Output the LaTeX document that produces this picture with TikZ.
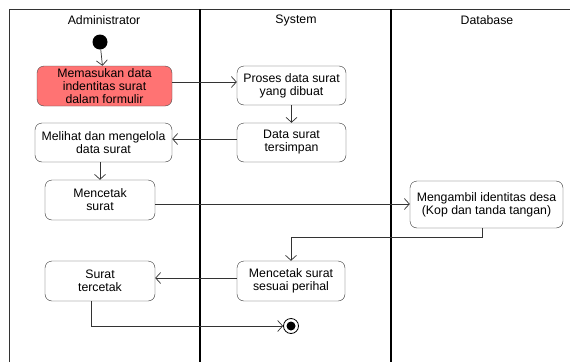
\documentclass[tikz,border=0pt]{standalone}
\usepackage{fontspec}
\setmainfont{Liberation Sans}
\usetikzlibrary{arrows.meta}
\tikzset{
  act/.style={draw=black!80, rounded corners=7pt, fill=white, align=center,
    inner sep=0pt, font=\fontsize{12.3}{13}\selectfont},
  hot/.style={act, fill=red!55!white, draw=black!70},
  flow/.style={draw=black!80, line width=0.7pt, -{Straight Barb[length=5pt,width=11pt,line width=0.7pt]}},
  lane/.style={draw=black, line width=1.6pt},
  frame/.style={draw=black!80, line width=0.9pt},
  head/.style={font=\fontsize{12.3}{13}\selectfont}
}
\begin{document}
\begin{tikzpicture}[x=1pt,y=-1pt]
\useasboundingbox[fill=white] (0,0) rectangle (570,362);
% swimlane frame
\draw[frame] (9,362) -- (9,9) -- (570,9);
\draw[lane] (200,9) -- (200,362);
\draw[lane] (391,9) -- (391,362);
\node[head] (hAdm) at (104,20) {Administrator};
\node[head] (hSys) at (296,20) {System};
\node[head] (hDb) at (487,20) {Database};
% start and end
\node[circle, fill=black, minimum size=15pt, inner sep=0pt] (start) at (100,42) {};
\node[circle, draw=black, line width=0.8pt, minimum size=15pt, inner sep=0pt] (stop) at (291,326) {};
\node[circle, fill=black, minimum size=9pt, inner sep=0pt] at (stop) {};
% activities
\node[hot, minimum width=135pt, minimum height=40pt] (a1) at (104.5,86) {Memasukan data\\indentitas surat\\dalam formulir};
\node[act, minimum width=109pt, minimum height=39pt] (s1) at (291.5,85.5) {Proses data surat\\yang dibuat};
\node[act, minimum width=109pt, minimum height=39pt] (s2) at (291.5,142.5) {Data surat\\tersimpan};
\node[act, minimum width=137pt, minimum height=39pt] (a2) at (103.5,142.5) {Melihat dan mengelola\\data surat};
\node[act, minimum width=110pt, minimum height=40pt] (a3) at (100,200) {Mencetak\\surat};
\node[act, minimum width=153pt, minimum height=47pt] (d1) at (486.5,204.5) {Mengambil identitas desa\\(Kop dan tanda tangan)};
\node[act, minimum width=108pt, minimum height=40pt] (s3) at (291,281) {Mencetak surat\\sesuai perihal};
\node[act, minimum width=110pt, minimum height=40pt] (a4) at (100,281) {Surat\\tercetak};
% transitions
\draw[flow] (start) -- (a1);
\draw[flow] (a1.east |- 0,82) -- (s1.west |- 0,82);
\draw[flow] (s1) -- (s2);
\draw[flow] (s2.west |- 0,139) -- (a2.east |- 0,139);
\draw[flow] (a2.south -| 100,0) -- (a3);
\draw[flow] (a3.east |- 0,204) -- (d1.west |- 0,204);
\draw[flow] (d1.south -| 482,0) -- (482,237) -- (291,237) -- (s3.north);
\draw[flow] (s3.west |- 0,278) -- (a4.east |- 0,278);
\draw[flow] (a4.south -| 91,0) -- (91,326) -- (stop.west);
\end{tikzpicture}
\end{document}
